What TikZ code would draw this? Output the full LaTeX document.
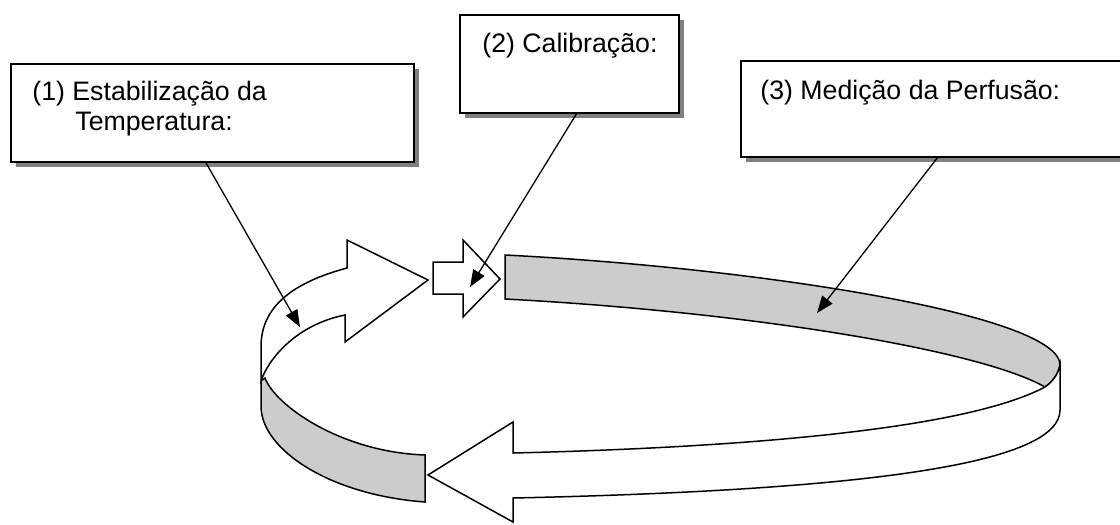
\documentclass[tikz,border=0pt]{standalone}
\usepackage{fontspec}
\setmainfont{Liberation Sans}
\usetikzlibrary{arrows.meta,shadows}
\definecolor{bandgray}{RGB}{204,204,204}
\definecolor{shadowgray}{RGB}{128,128,128}
\begin{document}
\begin{tikzpicture}[x=0.5pt,y=-0.5pt,
  box/.style={draw=black,line width=1pt,fill=white,anchor=north west,inner sep=0pt,outer sep=0pt,
    drop shadow={shadow xshift=2.5pt,shadow yshift=-2.5pt,fill=shadowgray,opacity=1}},
  label/.style={anchor=base west,inner sep=0pt,align=left,font=\fontsize{13.35pt}{15pt}\selectfont},
  whiteband/.style={draw=black,line width=0.75pt,fill=white,line join=miter},
  grayband/.style={draw=black,line width=0.75pt,fill=bandgray,line join=miter},
  pointer/.style={draw=black,line width=0.65pt,-{Triangle[length=8.5pt,width=6.5pt]}}
]
\useasboundingbox (0,0) rectangle (1120,525);
\clip (0,0) rectangle (1120,525);

% boxes
\node[box,minimum width=201.5pt,minimum height=49pt] (box1) at (11,64) {};
\node[box,minimum width=109.5pt,minimum height=49pt] (box2) at (460,15) {};
\node[box,minimum width=192pt,minimum height=48pt] (box3) at (741,61) {};

% base anchor of a two-line node is the baseline of its last line
\node[label] (t1) at (32,130) {(1) Estabilização da\\\hspace*{21.5pt}Temperatura:};
\node[label] (t2) at (482,52) {(2) Calibração:};
\node[label] (t3) at (760,99) {(3) Medição da Perfusão:};

% ribbon: gray inner band at lower left
\path[grayband] (265,378) .. controls (275,405) and (340,452) .. (425,455)
  -- (425,502) .. controls (330,495) and (262,450) .. (261,407)
  -- (261,381) -- cycle;
% white curved arrow (left, going up)
\path[whiteband] (428,280) -- (347,240) -- (347,268)
  .. controls (295,282) and (262,305) .. (261,345)
  -- (261,381) .. controls (268,360) and (295,325) .. (345,315)
  -- (345,342) -- cycle;
% gray band at the back
\path[grayband] (505,255) .. controls (760,268) and (1060,315) .. (1060,365)
  .. controls (1058,375) and (1052,382) .. (1045,387)
  .. controls (980,350) and (750,312) .. (505,299) -- cycle;
% white front band with arrowhead to the left
\path[whiteband] (428,475) -- (513,422) -- (513,453)
  .. controls (720,448) and (960,432) .. (1045,387)
  .. controls (1052,382) and (1058,375) .. (1060,365)
  -- (1060,410) .. controls (1060,462) and (880,490) .. (513,498)
  -- (513,522) -- cycle;
% small notched arrow
\path[whiteband] (433,262) -- (463,262) -- (463,240) -- (500,279)
  -- (463,317) -- (463,294) -- (433,294) -- cycle;

% pointer targets
\coordinate (e1) at (300,327);
\coordinate (e2) at (470,287);
\coordinate (e3) at (817,313);
\coordinate (s1) at ([xshift=-3.5pt]box1.south);
\coordinate (s2) at ([xshift=3.75pt]box2.south);
\coordinate (s3) at ([xshift=98.5pt]box3.south west);

\draw[pointer] (s1) -- (e1);
\draw[pointer] (s2) -- (e2);
\draw[pointer] (s3) -- (e3);
\end{tikzpicture}
\end{document}
